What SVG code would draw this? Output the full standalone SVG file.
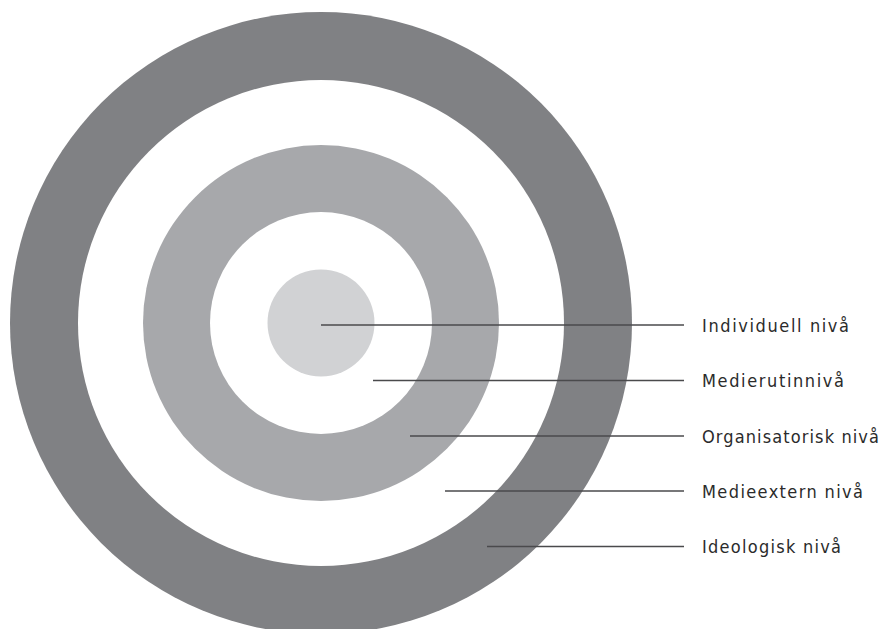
<svg xmlns="http://www.w3.org/2000/svg" width="880" height="629" viewBox="0 0 880 629">
<style>
.lbl{font-family:"DejaVu Sans Condensed","Liberation Sans",sans-serif;font-stretch:condensed;font-size:18px;fill:#2b2b2b}
.ln{stroke:#4a4a4c;stroke-width:1.4;fill:none}
</style>
<rect width="880" height="629" fill="#ffffff"/>
<g id="ring-ideologisk"><circle cx="321" cy="323" r="311" fill="#808184"/><circle cx="321" cy="323" r="243" fill="#ffffff"/></g>
<g id="ring-organisatorisk"><circle cx="321" cy="323" r="178" fill="#a7a8ab"/><circle cx="321" cy="323" r="111" fill="#ffffff"/></g>
<g id="core-individuell"><circle cx="321" cy="323" r="53.5" fill="#d1d2d4"/></g>
<g id="connectors">
<line class="ln" x1="321" y1="325" x2="684" y2="325"/>
<line class="ln" x1="373" y1="380.5" x2="684" y2="380.5"/>
<line class="ln" x1="410" y1="436" x2="684" y2="436"/>
<line class="ln" x1="445" y1="491" x2="684" y2="491"/>
<line class="ln" x1="487" y1="546.5" x2="684" y2="546.5"/>
</g>
<g id="label-individuell"><text class="lbl" x="702" y="331.5" textLength="147" lengthAdjust="spacing">Individuell nivå</text></g>
<g id="label-medierutin"><text class="lbl" x="702" y="387" textLength="142" lengthAdjust="spacing">Medierutinnivå</text></g>
<g id="label-organisatorisk"><text class="lbl" x="702" y="442.5" textLength="177" lengthAdjust="spacing">Organisatorisk nivå</text></g>
<g id="label-medieextern"><text class="lbl" x="702" y="497.5" textLength="161" lengthAdjust="spacing">Medieextern nivå</text></g>
<g id="label-ideologisk"><text class="lbl" x="702" y="553" textLength="139" lengthAdjust="spacing">Ideologisk nivå</text></g>
</svg>
